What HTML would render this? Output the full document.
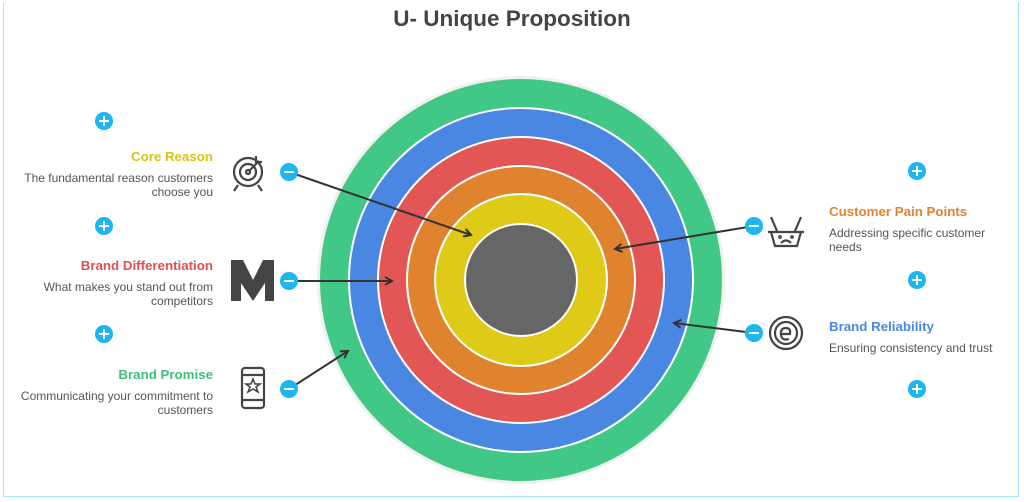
<!DOCTYPE html>
<html><head><meta charset="utf-8"><style>
body{margin:0;width:1024px;height:502px;background:#fff;position:relative;overflow:hidden;font-family:"Liberation Sans",sans-serif}
.t{position:absolute;font-size:13.3px;font-weight:bold;white-space:nowrap}
.d{position:absolute;font-size:12px;color:#555;line-height:14px;white-space:nowrap}
.l{text-align:right;right:811px}
.r{left:829px}
</style></head><body>
<div style="position:absolute;left:3px;top:2px;width:1014px;height:494px;border:1px solid #a8e4f4;border-top:none"></div>
<div style="position:absolute;left:0;width:1024px;top:6px;text-align:center;font-size:22.5px;font-weight:bold;color:#444">U- Unique Proposition</div>
<svg width="1024" height="502" style="position:absolute;left:0;top:0">
<defs><marker id="a" markerWidth="10" markerHeight="10" refX="8" refY="5" orient="auto" markerUnits="userSpaceOnUse"><path d="M1,1 L8,5 L1,9" fill="none" stroke="#333" stroke-width="2"/></marker></defs>
<circle cx="521" cy="280" r="204" fill="#f0f0f0"/>
<circle cx="521" cy="280" r="201" fill="#42c886"/>
<circle cx="521" cy="280" r="173" fill="#fff"/>
<circle cx="521" cy="280" r="171" fill="#4a87e2"/>
<circle cx="521" cy="280" r="144" fill="#fff"/>
<circle cx="521" cy="280" r="142" fill="#e35656"/>
<circle cx="521" cy="280" r="115" fill="#fff"/>
<circle cx="521" cy="280" r="113" fill="#e0832e"/>
<circle cx="521" cy="280" r="87" fill="#fff"/>
<circle cx="521" cy="280" r="85" fill="#dfca17"/>
<circle cx="521" cy="280" r="57" fill="#fff"/>
<circle cx="521" cy="280" r="55" fill="#666"/>
<g stroke="#333" stroke-width="2" fill="none" marker-end="url(#a)">
<line x1="289" y1="172" x2="471" y2="235"/>
<line x1="289" y1="281" x2="392" y2="281"/>
<line x1="289" y1="389" x2="348" y2="351"/>
<line x1="754" y1="226" x2="615" y2="249"/>
<line x1="754" y1="333" x2="674" y2="323"/>
</g>
<g fill="#1eb6f0">
<circle cx="104" cy="121" r="9"/><circle cx="104" cy="226" r="9"/><circle cx="104" cy="334" r="9"/>
<circle cx="917" cy="171" r="9"/><circle cx="917" cy="280" r="9"/><circle cx="917" cy="389" r="9"/>
<circle cx="289" cy="172" r="9"/><circle cx="289" cy="281" r="9"/><circle cx="289" cy="389" r="9"/>
<circle cx="754" cy="226" r="9"/><circle cx="754" cy="333" r="9"/>
</g>
<g stroke="#fff" stroke-width="2">
<path d="M99 121h10M104 116v10M99 226h10M104 221v10M99 334h10M104 329v10M912 171h10M917 166v10M912 280h10M917 275v10M912 389h10M917 384v10"/>
<path d="M284 172h10M284 281h10M284 389h10M749 226h10M749 333h10"/>
</g>
<g stroke="#444" stroke-width="2.2" fill="none">
<circle cx="248" cy="172" r="14"/><circle cx="248" cy="172" r="8"/><circle cx="248" cy="172" r="2"/>
<path d="M249 171l10-10M256 156v6h6M238 185l-4 6M258 185l4 6"/>
<rect x="242" y="368" width="22" height="40" rx="3"/><path d="M242 375h22M242 400h22"/>
<path d="M253 379l2 5 5 0-4 3 2 5-5-3-5 3 2-5-4-3 5 0z" stroke-width="1.6"/>
<path d="M768 232h36M771 232l4 14h22l4-14M777 231l-6-14M795 231l6-14"/>
<path d="M781 243q5-5 10 0" /><circle cx="780" cy="237" r="0.8"/><circle cx="792" cy="237" r="0.8"/>
<circle cx="786" cy="333" r="16"/><circle cx="786" cy="333" r="11"/>
<path d="M781 334h9q1-6-4-6q-6 0-5 7q1 6 8 4"/>
</g>
<path d="M231 260h12l10 20 10-20h11v41h-9v-18l-12 18-12-18v18h-10z" fill="#444"/>
</svg>
<div class="t l" style="top:149px;color:#d8c315">Core Reason</div>
<div class="d l" style="top:171px">The fundamental reason customers<br>choose you</div>
<div class="t l" style="top:258px;color:#e05050">Brand Differentiation</div>
<div class="d l" style="top:280px">What makes you stand out from<br>competitors</div>
<div class="t l" style="top:367px;color:#3fbf7a">Brand Promise</div>
<div class="d l" style="top:389px">Communicating your commitment to<br>customers</div>
<div class="t r" style="top:204px;color:#e0832e">Customer Pain Points</div>
<div class="d r" style="top:226px">Addressing specific customer<br>needs</div>
<div class="t r" style="top:319px;color:#4a87e2">Brand Reliability</div>
<div class="d r" style="top:341px">Ensuring consistency and trust</div>
</body></html>
